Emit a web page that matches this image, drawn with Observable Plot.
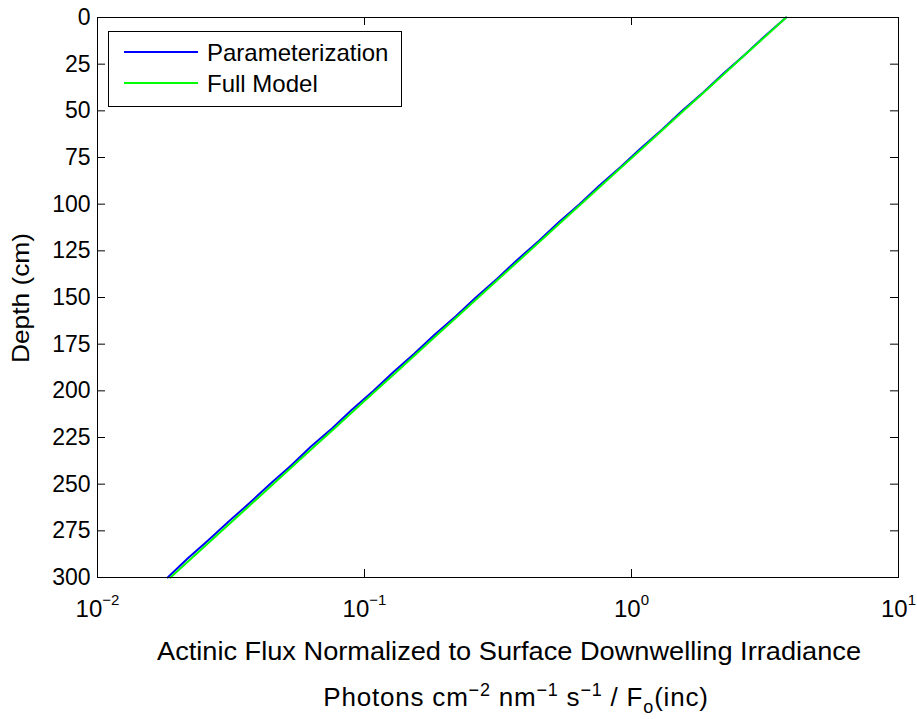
<!DOCTYPE html>
<html><head><meta charset="utf-8">
<script src="https://cdn.jsdelivr.net/npm/d3@7"></script>
<script src="https://cdn.jsdelivr.net/npm/@observablehq/plot@0.6"></script>
<style>body{margin:0;background:#fff;} svg{display:block}</style>
</head><body><div id="chart"></div>
<script>
// ---- data ----
const depth = [0,10,20,30,40,50,60,70,80,90,100,110,120,130,140,150,160,170,180,190,200,210,220,230,240,250,260,270,280,290,300];
const fullModel = [3.793,3.178,2.663,2.231,1.869,1.566,1.312,1.099,0.921,0.771,0.646,0.5414,0.4535,0.3800,0.3184,0.2667,0.2234,0.1872,0.1568,0.1314,0.1101,0.0922,0.0773,0.0647,0.0542,0.0454,0.0381,0.0319,0.0267,0.0224,0.01875];
const parameterization = [3.793,3.156,2.657,2.210,1.860,1.548,1.303,1.084,0.9125,0.7587,0.6386,0.5315,0.4473,0.3722,0.3140,0.2612,0.2198,0.1829,0.1539,0.1281,0.1081,0.0899,0.0757,0.0629,0.0531,0.0442,0.0372,0.0310,0.0260,0.0217,0.01832];
const seriesNames = ["Parameterization", "Full Model"];
const seriesColors = ["#0000ff", "#00ff00"];
const xTicks = [0.01, 0.1, 1, 10];
const xTickExponents = ["\u22122", "\u22121", "0", "1"];
const yTicks = [0,25,50,75,100,125,150,175,200,225,250,275,300];
const yLabel = "Depth (cm)";
const xLabel1 = "Actinic Flux Normalized to Surface Downwelling Irradiance";

// ---- layout ----
const W = 917, H = 719, mL = 97, mR = 19, mT = 17, mB = 142;
const plotW = W - mL - mR, plotH = H - mT - mB;
const FONT = "'Liberation Sans', Arial, Helvetica, sans-serif";

const paramRows = depth.map((d, i) => ({depth: d, flux: parameterization[i]}));
const fullRows = depth.map((d, i) => ({depth: d, flux: fullModel[i]}));
const innerX = xTicks.slice(1, -1);
const innerY = yTicks.slice(1, -1);

const chart = Plot.plot({
  width: W, height: H,
  marginLeft: mL, marginRight: mR, marginTop: mT, marginBottom: mB,
  style: {fontFamily: FONT, fontSize: "23px", color: "#000", background: "#fff"},
  x: {type: "log", domain: [0.01, 10]},
  y: {domain: [0, 300], reverse: true},
  marks: [
    Plot.line(paramRows, {x: "flux", y: "depth", stroke: seriesColors[0], strokeWidth: 2}),
    Plot.line(fullRows, {x: "flux", y: "depth", stroke: seriesColors[1], strokeWidth: 2}),
    Plot.tickX(innerX, {x: d => d, insetTop: plotH - 8, stroke: "#000"}),
    Plot.tickX(innerX, {x: d => d, insetBottom: plotH - 8, stroke: "#000"}),
    Plot.tickY(innerY, {y: d => d, insetRight: plotW - 8, stroke: "#000"}),
    Plot.tickY(innerY, {y: d => d, insetLeft: plotW - 8, stroke: "#000"}),
    Plot.frame({stroke: "#000", strokeWidth: 1}),
    Plot.axisX(xTicks, {tickSize: 0, tickPadding: 22, tickFormat: () => "10", label: null, fontSize: 24}),
    Plot.axisY(yTicks, {tickSize: 0, tickPadding: 7, label: null, fontSize: 23})
  ]
});
document.getElementById("chart").appendChild(chart);

const svg = d3.select(chart);
// superscript exponents on x tick labels
svg.selectAll('[aria-label="x-axis tick label"] text').each(function(d, i) {
  d3.select(this).append("tspan").attr("dy", -12).attr("font-size", 15).text(xTickExponents[i]);
});

// axis labels
svg.append("text").attr("transform", "translate(29,298) rotate(-90)")
  .attr("text-anchor", "middle").attr("font-family", FONT).attr("font-size", 24)
  .attr("textLength", 130).attr("lengthAdjust", "spacingAndGlyphs").text(yLabel);

svg.append("text").attr("x", 509).attr("y", 660)
  .attr("text-anchor", "middle").attr("font-family", FONT).attr("font-size", 26)
  .attr("textLength", 704).attr("lengthAdjust", "spacingAndGlyphs").text(xLabel1);

const l2 = svg.append("text").attr("x", 516).attr("y", 706)
  .attr("text-anchor", "middle").attr("font-family", FONT).attr("font-size", 26)
  .attr("letter-spacing", "0.8px");
const parts = [["Photons cm", 0], ["\u22122", 1], [" nm", 0], ["\u22121", 1], [" s", 0], ["\u22121", 1], [" / F", 0], ["o", -1], ["(inc)", 0]];
let cur = 0;
parts.forEach(([t, k]) => {
  const target = k === 1 ? -10 : k === -1 ? 7 : 0;
  l2.append("tspan").attr("dy", target - cur).attr("font-size", k === 0 ? 26 : 18).text(t);
  cur = target;
});

// legend
const lg = svg.append("g");
lg.append("rect").attr("x", 108.5).attr("y", 31.5).attr("width", 293).attr("height", 75)
  .attr("fill", "#fff").attr("stroke", "#000").attr("stroke-width", 1);
seriesNames.forEach((name, i) => {
  const yy = 52 + i * 31;
  lg.append("line").attr("x1", 124).attr("x2", 198).attr("y1", yy).attr("y2", yy)
    .attr("stroke", seriesColors[i]).attr("stroke-width", 2);
  lg.append("text").attr("x", 207).attr("y", yy + 8.5).attr("text-anchor", "start")
    .attr("font-family", FONT).attr("font-size", 24).text(name);
});
</script></body></html>
